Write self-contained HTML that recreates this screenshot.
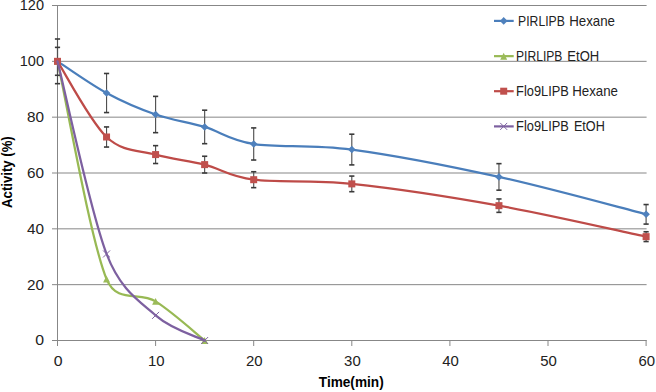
<!DOCTYPE html>
<html><head><meta charset="utf-8"><style>
html,body{margin:0;padding:0;background:#fff;width:656px;height:392px;overflow:hidden}
svg{display:block}
.lab{font-family:"Liberation Sans",sans-serif;font-size:14.2px;fill:#222}
.leg{font-family:"Liberation Sans",sans-serif;font-size:14.2px;fill:#222}
.ttl{font-family:"Liberation Sans",sans-serif;font-size:14px;font-weight:bold;fill:#000}
</style></head><body>
<svg width="656" height="392" viewBox="0 0 656 392">
<g stroke="#878787" stroke-width="1"><line x1="52" y1="284.67" x2="646.60" y2="284.67"/><line x1="52" y1="228.83" x2="646.60" y2="228.83"/><line x1="52" y1="173.00" x2="646.60" y2="173.00"/><line x1="52" y1="117.17" x2="646.60" y2="117.17"/><line x1="52" y1="61.33" x2="646.60" y2="61.33"/><line x1="52" y1="5.50" x2="646.60" y2="5.50"/></g>
<g stroke="#878787" stroke-width="1"><line x1="57.5" y1="5" x2="57.5" y2="341"/><line x1="52" y1="340.5" x2="646.60" y2="340.5"/><line x1="57.50" y1="340" x2="57.50" y2="346"/><line x1="155.60" y1="340" x2="155.60" y2="346"/><line x1="253.70" y1="340" x2="253.70" y2="346"/><line x1="351.80" y1="340" x2="351.80" y2="346"/><line x1="449.90" y1="340" x2="449.90" y2="346"/><line x1="548.00" y1="340" x2="548.00" y2="346"/><line x1="646.10" y1="340" x2="646.10" y2="346"/></g>
<g stroke="#3a3a3a"><line x1="57.50" y1="39.00" x2="57.50" y2="83.67" stroke-width="1.15" stroke="#505050"/><line x1="54.90" y1="39.00" x2="60.10" y2="39.00" stroke-width="1.6"/><line x1="54.90" y1="83.67" x2="60.10" y2="83.67" stroke-width="1.6"/><line x1="106.55" y1="73.48" x2="106.55" y2="112.56" stroke-width="1.15" stroke="#505050"/><line x1="103.95" y1="73.48" x2="109.15" y2="73.48" stroke-width="1.6"/><line x1="103.95" y1="112.56" x2="109.15" y2="112.56" stroke-width="1.6"/><line x1="155.60" y1="96.37" x2="155.60" y2="132.66" stroke-width="1.15" stroke="#505050"/><line x1="153.00" y1="96.37" x2="158.20" y2="96.37" stroke-width="1.6"/><line x1="153.00" y1="132.66" x2="158.20" y2="132.66" stroke-width="1.6"/><line x1="204.65" y1="110.19" x2="204.65" y2="143.69" stroke-width="1.15" stroke="#505050"/><line x1="202.05" y1="110.19" x2="207.25" y2="110.19" stroke-width="1.6"/><line x1="202.05" y1="143.69" x2="207.25" y2="143.69" stroke-width="1.6"/><line x1="253.70" y1="127.91" x2="253.70" y2="160.02" stroke-width="1.15" stroke="#505050"/><line x1="251.10" y1="127.91" x2="256.30" y2="127.91" stroke-width="1.6"/><line x1="251.10" y1="160.02" x2="256.30" y2="160.02" stroke-width="1.6"/><line x1="351.80" y1="134.20" x2="351.80" y2="164.90" stroke-width="1.15" stroke="#505050"/><line x1="349.20" y1="134.20" x2="354.40" y2="134.20" stroke-width="1.6"/><line x1="349.20" y1="164.90" x2="354.40" y2="164.90" stroke-width="1.6"/><line x1="498.95" y1="163.65" x2="498.95" y2="190.17" stroke-width="1.15" stroke="#505050"/><line x1="496.35" y1="163.65" x2="501.55" y2="163.65" stroke-width="1.6"/><line x1="496.35" y1="190.17" x2="501.55" y2="190.17" stroke-width="1.6"/><line x1="646.10" y1="204.55" x2="646.10" y2="224.09" stroke-width="1.15" stroke="#505050"/><line x1="643.50" y1="204.55" x2="648.70" y2="204.55" stroke-width="1.6"/><line x1="643.50" y1="224.09" x2="648.70" y2="224.09" stroke-width="1.6"/></g>
<path d="M57.50,61.33 C65.67,66.61 90.20,84.16 106.55,93.02 C122.90,101.88 139.25,108.86 155.60,114.51 C171.95,120.17 188.30,122.03 204.65,126.94 C221.00,131.85 229.18,140.20 253.70,143.97 C278.23,147.74 310.93,144.06 351.80,149.55 C392.68,155.04 449.90,166.11 498.95,176.91 C548.00,187.70 621.58,208.08 646.10,214.32" fill="none" stroke="#4A7EBB" stroke-width="2.25" stroke-linejoin="round" stroke-linecap="round"/>
<path d="M57.50,57.53L61.30,61.33L57.50,65.13L53.70,61.33Z" fill="#4F81BD"/><path d="M106.55,89.22L110.35,93.02L106.55,96.82L102.75,93.02Z" fill="#4F81BD"/><path d="M155.60,110.71L159.40,114.51L155.60,118.31L151.80,114.51Z" fill="#4F81BD"/><path d="M204.65,123.14L208.45,126.94L204.65,130.74L200.85,126.94Z" fill="#4F81BD"/><path d="M253.70,140.17L257.50,143.97L253.70,147.77L249.90,143.97Z" fill="#4F81BD"/><path d="M351.80,145.75L355.60,149.55L351.80,153.35L348.00,149.55Z" fill="#4F81BD"/><path d="M498.95,173.11L502.75,176.91L498.95,180.71L495.15,176.91Z" fill="#4F81BD"/><path d="M646.10,210.52L649.90,214.32L646.10,218.12L642.30,214.32Z" fill="#4F81BD"/>
<path d="M57.50,61.33 C65.67,97.63 90.20,239.07 106.55,279.08 C116.74,304.03 139.25,291.18 155.60,301.42 C171.95,311.65 196.48,333.99 204.65,340.50" fill="none" stroke="#98B954" stroke-width="2.25" stroke-linejoin="round" stroke-linecap="round"/>
<path d="M57.50,57.93L61.00,64.73L54.00,64.73Z" fill="#9BBB59"/><path d="M106.55,275.68L110.05,282.48L103.05,282.48Z" fill="#9BBB59"/><path d="M155.60,298.02L159.10,304.82L152.10,304.82Z" fill="#9BBB59"/><path d="M204.65,337.10L208.15,343.90L201.15,343.90Z" fill="#9BBB59"/>
<g stroke="#3a3a3a"><line x1="57.50" y1="47.38" x2="57.50" y2="75.29" stroke-width="1.15" stroke="#505050"/><line x1="54.90" y1="47.38" x2="60.10" y2="47.38" stroke-width="1.6"/><line x1="54.90" y1="75.29" x2="60.10" y2="75.29" stroke-width="1.6"/><line x1="106.55" y1="126.94" x2="106.55" y2="147.04" stroke-width="1.15" stroke="#505050"/><line x1="103.95" y1="126.94" x2="109.15" y2="126.94" stroke-width="1.6"/><line x1="103.95" y1="147.04" x2="109.15" y2="147.04" stroke-width="1.6"/><line x1="155.60" y1="145.64" x2="155.60" y2="163.51" stroke-width="1.15" stroke="#505050"/><line x1="153.00" y1="145.64" x2="158.20" y2="145.64" stroke-width="1.6"/><line x1="153.00" y1="163.51" x2="158.20" y2="163.51" stroke-width="1.6"/><line x1="204.65" y1="156.25" x2="204.65" y2="173.00" stroke-width="1.15" stroke="#505050"/><line x1="202.05" y1="156.25" x2="207.25" y2="156.25" stroke-width="1.6"/><line x1="202.05" y1="173.00" x2="207.25" y2="173.00" stroke-width="1.6"/><line x1="253.70" y1="171.74" x2="253.70" y2="187.66" stroke-width="1.15" stroke="#505050"/><line x1="251.10" y1="171.74" x2="256.30" y2="171.74" stroke-width="1.6"/><line x1="251.10" y1="187.66" x2="256.30" y2="187.66" stroke-width="1.6"/><line x1="351.80" y1="176.07" x2="351.80" y2="191.70" stroke-width="1.15" stroke="#505050"/><line x1="349.20" y1="176.07" x2="354.40" y2="176.07" stroke-width="1.6"/><line x1="349.20" y1="191.70" x2="354.40" y2="191.70" stroke-width="1.6"/><line x1="498.95" y1="198.96" x2="498.95" y2="212.36" stroke-width="1.15" stroke="#505050"/><line x1="496.35" y1="198.96" x2="501.55" y2="198.96" stroke-width="1.6"/><line x1="496.35" y1="212.36" x2="501.55" y2="212.36" stroke-width="1.6"/><line x1="646.10" y1="231.76" x2="646.10" y2="241.54" stroke-width="1.15" stroke="#505050"/><line x1="643.50" y1="231.76" x2="648.70" y2="231.76" stroke-width="1.6"/><line x1="643.50" y1="241.54" x2="648.70" y2="241.54" stroke-width="1.6"/></g>
<path d="M57.50,61.33 C65.67,73.94 90.20,121.45 106.55,136.99 C122.90,152.53 139.25,149.97 155.60,154.58 C171.95,159.18 188.30,160.44 204.65,164.62 C221.00,168.81 229.18,176.49 253.70,179.70 C278.23,182.91 310.93,179.56 351.80,183.89 C392.68,188.21 449.90,196.87 498.95,205.66 C548.00,214.46 621.58,231.49 646.10,236.65" fill="none" stroke="#BE4B48" stroke-width="2.25" stroke-linejoin="round" stroke-linecap="round"/>
<rect x="54.00" y="57.83" width="7.00" height="7.00" fill="#C0504D"/><rect x="103.05" y="133.49" width="7.00" height="7.00" fill="#C0504D"/><rect x="152.10" y="151.08" width="7.00" height="7.00" fill="#C0504D"/><rect x="201.15" y="161.12" width="7.00" height="7.00" fill="#C0504D"/><rect x="250.20" y="176.20" width="7.00" height="7.00" fill="#C0504D"/><rect x="348.30" y="180.39" width="7.00" height="7.00" fill="#C0504D"/><rect x="495.45" y="202.16" width="7.00" height="7.00" fill="#C0504D"/><rect x="642.60" y="233.15" width="7.00" height="7.00" fill="#C0504D"/>
<path d="M57.50,61.33 C65.67,93.44 90.20,211.62 106.55,253.96 C120.71,290.62 139.25,300.95 155.60,315.38 C171.95,329.80 196.48,336.31 204.65,340.50" fill="none" stroke="#7D60A0" stroke-width="2.25" stroke-linejoin="round" stroke-linecap="round"/>
<path d="M103.05,250.46L110.05,257.46M110.05,250.46L103.05,257.46" stroke="#8064A2" stroke-width="1" fill="none"/><path d="M152.10,311.88L159.10,318.88M159.10,311.88L152.10,318.88" stroke="#8064A2" stroke-width="1" fill="none"/><path d="M201.15,337.00L208.15,344.00M208.15,337.00L201.15,344.00" stroke="#8064A2" stroke-width="1" fill="none"/>
<line x1="494" y1="20.90" x2="513.7" y2="20.90" stroke="#4A7EBB" stroke-width="2.2"/>
<path d="M503.70,17.10L507.50,20.90L503.70,24.70L499.90,20.90Z" fill="#4F81BD"/>
<line x1="494" y1="56.15" x2="513.7" y2="56.15" stroke="#98B954" stroke-width="2.2"/>
<path d="M503.70,52.85L507.20,59.65L500.20,59.65Z" fill="#9BBB59"/>
<line x1="494" y1="91.20" x2="513.7" y2="91.20" stroke="#BE4B48" stroke-width="2.2"/>
<rect x="500.20" y="87.70" width="7.00" height="7.00" fill="#C0504D"/>
<line x1="494" y1="126.40" x2="513.7" y2="126.40" stroke="#7D60A0" stroke-width="2.2"/>
<path d="M500.20,122.90L507.20,129.90M507.20,122.90L500.20,129.90" stroke="#8064A2" stroke-width="1" fill="none"/>
<text x="35.20" y="345.35" class="lab" textLength="8.80" lengthAdjust="spacingAndGlyphs">0</text>
<text x="27.00" y="289.52" class="lab" textLength="17.00" lengthAdjust="spacingAndGlyphs">20</text>
<text x="27.00" y="233.68" class="lab" textLength="17.00" lengthAdjust="spacingAndGlyphs">40</text>
<text x="27.00" y="177.85" class="lab" textLength="17.00" lengthAdjust="spacingAndGlyphs">60</text>
<text x="27.00" y="122.02" class="lab" textLength="17.00" lengthAdjust="spacingAndGlyphs">80</text>
<text x="19.80" y="66.18" class="lab" textLength="24.20" lengthAdjust="spacingAndGlyphs">100</text>
<text x="19.80" y="10.35" class="lab" textLength="24.20" lengthAdjust="spacingAndGlyphs">120</text>
<text x="53.70" y="365.60" class="lab" textLength="8.80" lengthAdjust="spacingAndGlyphs">0</text>
<text x="147.90" y="365.60" class="lab" textLength="16.60" lengthAdjust="spacingAndGlyphs">10</text>
<text x="246.00" y="365.60" class="lab" textLength="16.60" lengthAdjust="spacingAndGlyphs">20</text>
<text x="344.10" y="365.60" class="lab" textLength="16.60" lengthAdjust="spacingAndGlyphs">30</text>
<text x="442.20" y="365.60" class="lab" textLength="16.60" lengthAdjust="spacingAndGlyphs">40</text>
<text x="540.30" y="365.60" class="lab" textLength="16.60" lengthAdjust="spacingAndGlyphs">50</text>
<text x="638.40" y="365.60" class="lab" textLength="16.60" lengthAdjust="spacingAndGlyphs">60</text>
<text x="518.10" y="25.85" class="leg" textLength="46.70" lengthAdjust="spacingAndGlyphs">PIRLIPB</text>
<text x="569.20" y="25.85" class="leg" textLength="45.80" lengthAdjust="spacingAndGlyphs">Hexane</text>
<text x="516.05" y="60.80" class="leg" textLength="46.35" lengthAdjust="spacingAndGlyphs">PIRLIPB</text>
<text x="567.35" y="60.80" class="leg" textLength="31.85" lengthAdjust="spacingAndGlyphs">EtOH</text>
<text x="516.10" y="95.85" class="leg" textLength="52.80" lengthAdjust="spacingAndGlyphs">Flo9LIPB</text>
<text x="572.20" y="95.85" class="leg" textLength="45.80" lengthAdjust="spacingAndGlyphs">Hexane</text>
<text x="516.10" y="131.10" class="leg" textLength="52.80" lengthAdjust="spacingAndGlyphs">Flo9LIPB</text>
<text x="573.90" y="131.10" class="leg" textLength="30.90" lengthAdjust="spacingAndGlyphs">EtOH</text>
<text x="318.80" y="387.30" class="ttl" textLength="64.90" lengthAdjust="spacingAndGlyphs">Time(min)</text>
<text transform="translate(12.05,207.90) rotate(-90)" class="ttl" textLength="71.60" lengthAdjust="spacingAndGlyphs">Activity (%)</text>
</svg>
</body></html>
